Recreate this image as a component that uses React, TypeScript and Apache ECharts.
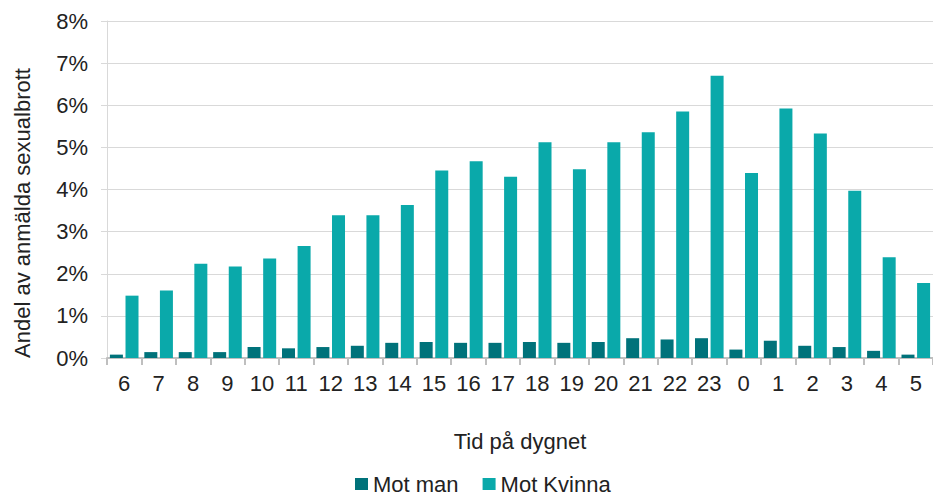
import React, { useEffect, useRef } from "react";
import * as echarts from "echarts";

const hours = ["6", "7", "8", "9", "10", "11", "12", "13", "14", "15", "16", "17", "18", "19", "20", "21", "22", "23", "0", "1", "2", "3", "4", "5"];
const motMan = [0.08, 0.14, 0.14, 0.14, 0.26, 0.23, 0.26, 0.29, 0.36, 0.38, 0.36, 0.36, 0.38, 0.36, 0.38, 0.47, 0.44, 0.47, 0.2, 0.41, 0.29, 0.26, 0.17, 0.08];
const motKvinna = [1.48, 1.6, 2.24, 2.17, 2.36, 2.66, 3.39, 3.39, 3.63, 4.45, 4.67, 4.3, 5.12, 4.48, 5.12, 5.36, 5.85, 6.7, 4.39, 5.92, 5.33, 3.97, 2.39, 1.78];
const seriesNames = ["Mot man", "Mot Kvinna"];
const yAxisTitle = "Andel av anmälda sexualbrott";
const xAxisTitle = "Tid på dygnet";

const FONT = "'Liberation Sans', Arial, sans-serif";

export default function App() {
  const ref = useRef<HTMLDivElement>(null);
  useEffect(() => {
    document.body.style.margin = "0";
    if (!ref.current) return;
    const chart = echarts.init(ref.current, undefined, { renderer: "svg" });
    chart.setOption({
      animation: false,
      textStyle: { fontFamily: FONT },
      grid: { left: 107, top: 21, bottom: 137, right: -8, containLabel: false },
      legend: {
        data: seriesNames,
        left: 355,
        top: 472,
        padding: 0,
        itemWidth: 13,
        itemHeight: 12,
        itemGap: 24,
        icon: "rect",
        textStyle: { fontSize: 22, color: "#222", fontFamily: FONT, lineHeight: 24 },
      },
      xAxis: {
        type: "category",
        data: hours,
        name: xAxisTitle,
        nameLocation: "middle",
        nameGap: 72,
        nameTextStyle: { fontSize: 22, color: "#222", fontFamily: FONT },
        axisLine: { lineStyle: { color: "#bfbfbf", width: 2 } },
        axisTick: { show: true, length: 7, lineStyle: { color: "#bfbfbf", width: 2 } },
        axisLabel: { fontSize: 22, color: "#222", margin: 14, interval: 0, fontFamily: FONT },
      },
      yAxis: {
        type: "value",
        min: 0,
        max: 8,
        interval: 1,
        axisLine: { show: true, lineStyle: { color: "#d9d9d9", width: 1 } },
        axisTick: { show: true, length: 6, lineStyle: { color: "#d9d9d9" } },
        splitLine: { lineStyle: { color: "#d9d9d9", width: 1 } },
        axisLabel: { fontSize: 22, color: "#222", margin: 19, formatter: "{value}%", fontFamily: FONT },
      },
      graphic: [
        {
          type: "text",
          x: 22,
          y: 213,
          rotation: Math.PI / 2,
          style: {
            text: yAxisTitle,
            fontSize: 22,
            fill: "#222",
            fontFamily: FONT,
            textAlign: "center",
            textVerticalAlign: "middle",
          },
        },
      ],
      series: [
        {
          name: seriesNames[0],
          type: "bar",
          data: motMan,
          barWidth: 13,
          barGap: "20%",
          itemStyle: { color: "#00727a" },
        },
        {
          name: seriesNames[1],
          type: "bar",
          data: motKvinna,
          barWidth: 13,
          barGap: "20%",
          itemStyle: { color: "#0aa9aa" },
        },
      ],
    });
    return () => chart.dispose();
  }, []);
  return <div ref={ref} style={{ width: 933, height: 495 }} />;
}
